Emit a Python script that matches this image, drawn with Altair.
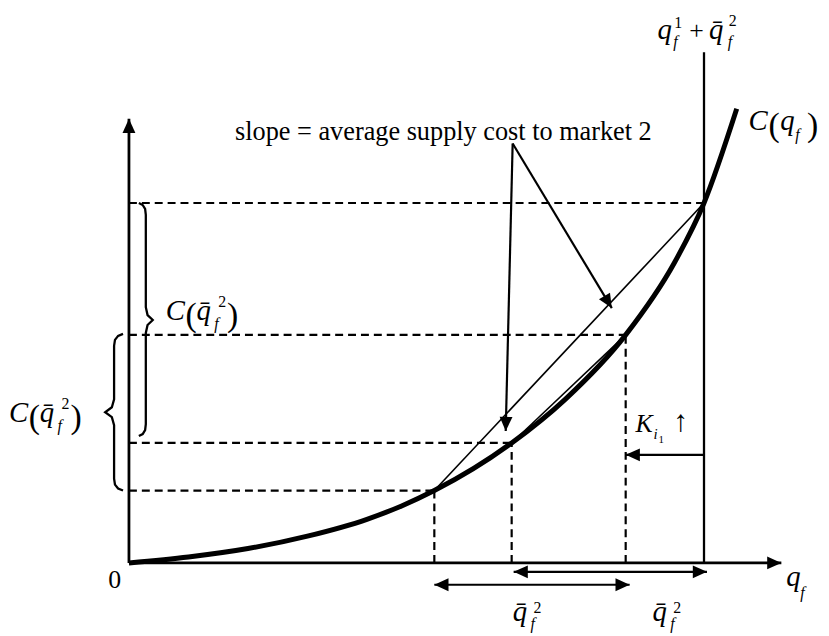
import math
import altair as alt
import pandas as pd

FONT = "Liberation Serif"

# ---- data (schematic units) ----
curve_q = [0, 1.2, 2.4, 3.6, 4.8, 5.5, 6.16, 7.72, 8.8, 10.02, 11.0, 11.6, 12.26]
curve_c = [0, 0.12, 0.29, 0.54, 0.88, 1.15, 1.46, 2.42, 3.3, 4.6, 6.05, 7.26, 9.16]

point_q = [6.16, 7.72, 10.02, 11.6]
point_c = [1.46, 2.42, 4.6, 7.26]

axis_x_end = 13.16
axis_y_end = 8.96
cap_line_top = 10.3

note_origin = (7.74, 8.46)
note_tips = [(7.6, 2.66), (9.74, 5.14)]
k_arrow_y = 2.18
range_upper = (7.76, 11.66, -0.18)
range_lower = (6.16, 10.1, -0.44)

PX = 50.0  # pixels per unit
xs = alt.Scale(domain=[-2.44, 13.96], nice=False, zero=False)
ys = alt.Scale(domain=[-1.42, 11.14], nice=False, zero=False)


def seg_df(segs):
    return pd.DataFrame([dict(x=a, y=b, x2=c, y2=d) for a, b, c, d in segs])


def rule_layer(segs, width, dash=None):
    kw = dict(color="black", strokeWidth=width, strokeCap="butt")
    if dash:
        kw["strokeDash"] = dash
    return alt.Chart(seg_df(segs)).mark_rule(**kw).encode(
        x=alt.X("x:Q", scale=xs, axis=None),
        y=alt.Y("y:Q", scale=ys, axis=None),
        x2="x2:Q", y2="y2:Q")


axes = rule_layer([(0, 0, axis_x_end, 0), (0, 0, 0, axis_y_end)], 2.8)
capline = rule_layer([(point_q[3], 0, point_q[3], cap_line_top)], 2.3)
chords = rule_layer([(point_q[0], point_c[0], point_q[3], point_c[3]),
                     (point_q[1], point_c[1], point_q[2], point_c[2])], 1.6)
dashed_segs = [(0, c, q, c) for q, c in zip(point_q, point_c)]
dashed_segs += [(q, 0, q, c) for q, c in zip(point_q[:3], point_c[:3])]
dashed = rule_layer(dashed_segs, 2.2, dash=[8, 5])
ox, oy = note_origin
arrow_segs = [(ox, oy, tx, ty) for tx, ty in note_tips]
arrow_segs += [(point_q[3], k_arrow_y, point_q[2], k_arrow_y),
               (range_upper[0], range_upper[2], range_upper[1], range_upper[2]),
               (range_lower[0], range_lower[2], range_lower[1], range_lower[2])]
arrows = rule_layer(arrow_segs, 2.2)


def ang(fx, fy, tx, ty):
    dx = (tx - fx)
    dy = -(ty - fy)
    a = math.degrees(math.atan2(dx, -dy))
    return a % 360


heads = [(0, axis_y_end, 0), (axis_x_end, 0, 90),
         (note_tips[0][0], note_tips[0][1], ang(ox, oy, *note_tips[0])),
         (note_tips[1][0], note_tips[1][1], ang(ox, oy, *note_tips[1])),
         (point_q[2], k_arrow_y, 270),
         (range_upper[0], range_upper[2], 270), (range_upper[1], range_upper[2], 90),
         (range_lower[0], range_lower[2], 270), (range_lower[1], range_lower[2], 90)]
head_df = pd.DataFrame(heads, columns=["x", "y", "angle"])
ARROW = "M0,0L-0.5,1.1L0.5,1.1Z"
arrowheads = alt.Chart(head_df).mark_point(
    shape=ARROW, filled=True, size=676, color="black", opacity=1, strokeWidth=0
).encode(x=alt.X("x:Q", scale=xs, axis=None), y=alt.Y("y:Q", scale=ys, axis=None),
         angle=alt.Angle("angle:Q", scale=None))

curve_df = pd.DataFrame({"q": curve_q, "c": curve_c, "i": range(len(curve_q))})
curve = alt.Chart(curve_df).mark_line(
    color="black", strokeWidth=5, interpolate="monotone", strokeCap="butt"
).encode(x=alt.X("q:Q", scale=xs, axis=None), y=alt.Y("c:Q", scale=ys, axis=None),
         order="i:Q")


# ---- braces ----
def brace(name, xs_, ytop, ybot, ymid, end, tip):
    u = 1 / PX
    pts = [(end, ytop), (end * 0.45, ytop - 2 * u), (end * 0.1, ytop - 6 * u), (0, ytop - 12 * u),
           (0, ymid + 13 * u), (tip * 0.25, ymid + 5 * u), (tip, ymid),
           (tip * 0.25, ymid - 5 * u), (0, ymid - 13 * u),
           (0, ybot + 12 * u), (end * 0.1, ybot + 6 * u), (end * 0.45, ybot + 2 * u), (end, ybot)]
    return [dict(b=name, i=k, x=xs_ + dx, y=yy) for k, (dx, yy) in enumerate(pts)]


brace_rows = brace("left", -0.3, point_c[2] + 0.02, point_c[0], 3.04, 0.18, -0.18)
brace_rows += brace("right", 0.34, point_c[3], 2.56, 4.9, -0.14, 0.14)
braces = alt.Chart(pd.DataFrame(brace_rows)).mark_line(
    color="black", strokeWidth=2.3
).encode(x=alt.X("x:Q", scale=xs, axis=None), y=alt.Y("y:Q", scale=ys, axis=None),
         detail="b:N", order="i:Q")

# ---- labels ----
normal_rows = []
italic_rows = []


def N(t, x, y, s):
    normal_rows.append(dict(t=t, x=x, y=y, s=s))


def I(t, x, y, s):
    italic_rows.append(dict(t=t, x=x, y=y, s=s))


QBAR = "q\u0304"
M = 29   # math letters
P = 34   # parentheses
SS = 16  # sub / superscripts

N("slope = average supply cost to market 2", 2.14, 8.54, 26.5)
N("0", -0.42, -0.5, 26)
# top label  q_f^1 + qbar_f^2
I("q", 10.66, 10.56, M); N("1", 11.0, 10.8, SS); I("f", 10.98, 10.4, SS)
N("+", 11.3, 10.56, 26)
I(QBAR, 11.7, 10.56, M); N("2", 12.1, 10.84, SS); I("f", 12.08, 10.4, SS)
# C(q_f)
I("C", 12.5, 8.74, M); N("(", 12.9, 8.62, P); I("q", 13.14, 8.74, M)
I("f", 13.44, 8.54, SS); N(")", 13.68, 8.62, P)


def c_qbar(x0, y0):
    I("C", x0, y0, M); N("(", x0 + 0.4, y0 - 0.12, P); I(QBAR, x0 + 0.62, y0, M)
    N("2", x0 + 1.06, y0 + 0.26, SS); I("f", x0 + 0.98, y0 - 0.18, SS)
    N(")", x0 + 1.24, y0 - 0.12, P)


c_qbar(-2.42, 2.84)
c_qbar(0.74, 4.9)

for x0 in (7.74, 10.56):
    I(QBAR, x0, -1.18, M); N("2", x0 + 0.42, -1.02, SS); I("f", x0 + 0.36, -1.34, SS)

I("q", 13.26, -0.46, M); I("f", 13.54, -0.7, SS)
I("K", 10.22, 2.64, 26); I("i", 10.58, 2.5, 15); N("1", 10.68, 2.42, 11)
N("\u2191", 10.98, 2.66, 30)


def text_layer(rows, style):
    return alt.Chart(pd.DataFrame(rows)).mark_text(
        font=FONT, fontStyle=style, align="left", baseline="alphabetic", color="black"
    ).encode(x=alt.X("x:Q", scale=xs, axis=None), y=alt.Y("y:Q", scale=ys, axis=None),
             text="t:N", size=alt.Size("s:Q", scale=None))


chart = alt.layer(
    dashed, chords, capline, axes, arrows, arrowheads, curve, braces,
    text_layer(normal_rows, "normal"), text_layer(italic_rows, "italic"),
).properties(
    width=820, height=628, padding=0, autosize=alt.AutoSizeParams(type="none")
).configure_view(stroke=None)

chart.save("out.html", embed_options={"renderer": "svg", "actions": False})
